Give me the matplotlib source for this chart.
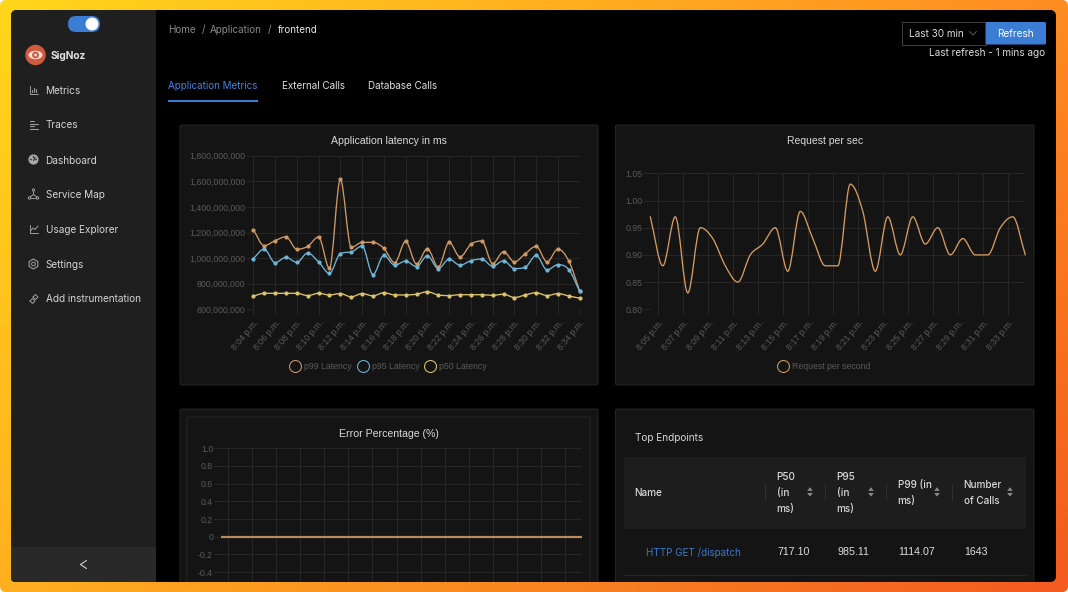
import numpy as np
import matplotlib
matplotlib.use("Agg")
import matplotlib.pyplot as plt
from matplotlib.patches import FancyBboxPatch, Rectangle, Circle, Ellipse, Polygon, PathPatch
from matplotlib.path import Path
from matplotlib.lines import Line2D

# ---------- data ----------
latency_ticks = ["8:04 p.m.", "8:06 p.m.", "8:08 p.m.", "8:10 p.m.", "8:12 p.m.", "8:14 p.m.", "8:16 p.m.", "8:18 p.m.",
                 "8:20 p.m.", "8:22 p.m.", "8:24 p.m.", "8:26 p.m.", "8:28 p.m.", "8:30 p.m.", "8:32 p.m.", "8:34 p.m."]
p99 = [1222, 1097, 1136, 1167, 1069, 1092, 1165, 920, 1615, 1084, 1123, 1123, 1076, 964, 1131, 954,
       1074, 930, 1123, 1009, 1108, 1134, 957, 1050, 970, 1035, 1092, 970, 1071, 977, 743]
p95 = [996, 1071, 964, 1006, 967, 1040, 970, 881, 1035, 1048, 1095, 871, 1022, 944, 977, 933,
       1019, 918, 992, 944, 980, 993, 936, 980, 918, 929, 1022, 907, 949, 910, 740]
p50 = [703, 725, 725, 725, 725, 707, 725, 712, 723, 697, 723, 705, 730, 712, 712, 718,
       737, 712, 707, 714, 714, 714, 709, 718, 692, 712, 730, 707, 723, 704, 687]
latency_yticks = [600, 800, 1000, 1200, 1400, 1600, 1800]

rps_ticks = ["8:05 p.m.", "8:07 p.m.", "8:09 p.m.", "8:11 p.m.", "8:13 p.m.", "8:15 p.m.", "8:17 p.m.", "8:19 p.m.",
             "8:21 p.m.", "8:23 p.m.", "8:25 p.m.", "8:27 p.m.", "8:29 p.m.", "8:31 p.m.", "8:33 p.m."]
rps = [0.97, 0.88, 0.97, 0.83, 0.95, 0.93, 0.88, 0.85, 0.90, 0.92, 0.95, 0.87, 0.98, 0.93, 0.88, 0.88,
       1.03, 0.98, 0.87, 0.97, 0.90, 0.97, 0.92, 0.95, 0.90, 0.93, 0.90, 0.90, 0.95, 0.97, 0.90]
rps_yticks = [0.80, 0.85, 0.90, 0.95, 1.00, 1.05]

errors = [0] * 31
error_yticks = [-0.4, -0.2, 0, 0.2, 0.4, 0.6, 0.8, 1.0]
error_ylabels = ["-0.4", "-0.2", "0", "0.2", "0.4", "0.6", "0.8", "1.0"]

menu_items = ["Metrics", "Traces", "Dashboard", "Service Map", "Usage Explorer", "Settings", "Add instrumentation"]
table_row = ["717.10", "985.11", "1114.07", "1643"]

# ---------- setup ----------
W, H = 1068, 592
plt.rcParams["font.family"] = ["Inter", "DejaVu Sans"]
CHART_FONT = "Liberation Sans"
fig = plt.figure(figsize=(W / 100, H / 100), dpi=100, facecolor="white")

bg = fig.add_axes([0, 0, 1, 1], zorder=0)
bg.set_xlim(0, W); bg.set_ylim(H, 0); bg.axis("off")

def axes_px(l, t, r, b):
    ax = fig.add_axes([l / W, 1 - b / H, (r - l) / W, (b - t) / H], zorder=2)
    ax.patch.set_visible(False)
    return ax

def rrect(x0, y0, x1, y1, r, fc, ec="none", lw=0, z=1):
    p = FancyBboxPatch((x0 + r, y0 + r), x1 - x0 - 2 * r, y1 - y0 - 2 * r,
                       boxstyle=f"round,pad={r},rounding_size={r}", fc=fc, ec=ec, lw=lw, zorder=z)
    bg.add_patch(p)
    return p

def txt(x, y, s, size=7.1, color="#d6d6d6", ha="left", va="center", **kw):
    bg.text(x, y + 0.7, s, fontsize=size, color=color, ha=ha, va=va, zorder=5, **kw)

def seg(xs, ys, color="#9a9a9a", lw=0.7, z=4):
    bg.plot(xs, ys, color=color, lw=lw, zorder=z, solid_capstyle="round", solid_joinstyle="round")

# gradient frame
c_tl, c_tr = np.array([255, 214, 27]) / 255, np.array([255, 140, 34]) / 255
c_bl, c_br = np.array([255, 176, 32]) / 255, np.array([243, 90, 32]) / 255
u = np.linspace(0, 1, 128)[None, :, None]
v = np.linspace(0, 1, 72)[:, None, None]
grad = (1 - v) * ((1 - u) * c_tl + u * c_tr) + v * ((1 - u) * c_bl + u * c_br)
im = bg.imshow(grad, extent=(0, W, H, 0), aspect="auto", zorder=0, interpolation="bilinear")
bg.set_xlim(0, W); bg.set_ylim(H, 0)
clip = FancyBboxPatch((6, 6), W - 12, H - 12, boxstyle="round,pad=6,rounding_size=6",
                      transform=bg.transData, fc="none", ec="none")
bg.add_patch(clip)
im.set_clip_path(clip)

# window + sidebar
rrect(11, 10, 1056, 582, 6, "#000000")
rrect(11, 10, 160, 582, 6, "#1f1f1f")
bg.add_patch(Rectangle((156, 10), 6, 572, fc="#000000", ec="none", zorder=1.1))
rrect(11, 547, 156, 582, 4, "#292929", z=1.2)
bg.add_patch(Rectangle((11, 547), 145, 8, fc="#292929", ec="none", zorder=1.2))
bg.add_patch(Rectangle((150, 547), 6, 35, fc="#292929", ec="none", zorder=1.2))
seg([86.5, 80.5, 86.5], [560.5, 564.5, 568.5], color="#cfcfcf", lw=0.8)

# toggle
rrect(68, 16, 100, 32, 8, "#3b7cd4", z=3)
bg.add_patch(Circle((92, 24), 6.5, fc="#ffffff", ec="none", zorder=4))

# logo
bg.add_patch(Circle((35.5, 55), 10.2, fc="#cf5a3f", ec="none", zorder=3))
bg.add_patch(Ellipse((35.5, 55), 14, 8.5, fc="#f4dcd4", ec="none", zorder=4))
bg.add_patch(Circle((35.5, 55), 3.4, fc="#cf5a3f", ec="none", zorder=4.5))
bg.add_patch(Circle((35.5, 55), 1.4, fc="#f4dcd4", ec="none", zorder=4.6))
txt(51, 55, "SigNoz", size=7.3, color="#e4e4e4", fontweight="bold")

# sidebar menu
menu_y = [90, 125, 160, 194.5, 229.5, 264, 299]
for s, y in zip(menu_items, menu_y):
    txt(45.5, y - 0.2, s, size=7.2, color="#d4d4d4")
ic = "#9d9d9d"
# metrics
seg([29.5, 29.5, 38], [85.5, 93.5, 93.5], ic)
for x, y0 in [(32, 90), (34, 87.5), (36, 89)]:
    seg([x, x], [y0, 92], ic, lw=0.8)
# traces
for y, x1 in [(120.5, 34), (123.5, 37.5), (126, 34), (129, 38)]:
    seg([29.5, x1], [y, y], ic, lw=0.8)
# dashboard
bg.add_patch(Circle((33.5, 159.5), 5.1, fc="#a8a8a8", ec="none", zorder=4))
for dx, dy in [(-2.6, 0), (0, -2.6), (2.6, 0)]:
    bg.add_patch(Circle((33.5 + dx, 159.5 + dy), 0.8, fc="#1f1f1f", ec="none", zorder=4.5))
seg([33.5, 35], [160.5, 157.5], "#1f1f1f", lw=0.8, z=4.5)
# service map
seg([33.5, 33.5, 29.5], [190.5, 194.5, 197.5], ic)
seg([33.5, 37.5], [194.5, 197.5], ic)
seg([29.5, 37.5], [198, 198], ic)
for x, y in [(33.5, 190), (29.5, 198), (37.5, 198)]:
    bg.add_patch(Circle((x, y), 1.2, fc="#1f1f1f", ec=ic, lw=0.7, zorder=5))
# usage
seg([29.5, 29.5, 38], [225, 233, 233], ic)
seg([30.5, 33, 35, 38], [231, 228, 229.5, 226], ic)
# settings
th = np.radians(np.arange(30, 390, 60))
bg.add_patch(Polygon(np.c_[33.5 + 5 * np.cos(th), 264 + 5 * np.sin(th)], closed=True, fc="none", ec=ic, lw=0.8, zorder=4))
bg.add_patch(Circle((33.5, 264), 1.9, fc="none", ec=ic, lw=0.7, zorder=4))
# add instrumentation
seg([30, 32.5, 35, 32.5, 30], [301, 298.5, 301, 303.5, 301], ic)
seg([33, 35.5, 38, 35.5, 33], [297, 294.5, 297, 299.5, 297], ic)

# header
crumb = "#8a8a8a"
txt(168, 29.5, "Home", color=crumb)
txt(201.5, 29.5, "/", color=crumb)
txt(210, 29.5, "Application", color=crumb)
txt(267.5, 29.5, "/", color=crumb)
txt(278, 29.5, "frontend", color="#e8e8e8")
txt(168, 85, "Application Metrics", color="#3f86e0")
txt(282, 85, "External Calls", color="#e0e0e0")
txt(368, 85, "Database Calls", color="#e0e0e0")
bg.add_patch(Rectangle((168, 100.7), 877, 0.8, fc="#232323", ec="none", zorder=2))
bg.add_patch(Rectangle((168, 100), 90, 1.6, fc="#3b7cd4", ec="none", zorder=3))

# controls
bg.add_patch(Rectangle((901.5, 22), 84, 22.5, fc="#000000", ec="#424242", lw=0.7, zorder=2))
txt(909, 33, "Last 30 min", color="#dddddd", size=7.2)
seg([969.5, 973, 976.5], [31.5, 35, 31.5], "#6a6a6a", lw=0.6)
rrect(985.5, 22, 1046, 44.5, 1.5, "#3b7cd4", z=3)
txt(1015.5, 33, "Refresh", color="#ffffff", ha="center", size=7.2)
txt(1045.5, 52.5, "Last refresh - 1 mins ago", color="#dddddd", ha="right", size=7.2)

# cards (the lower ones run past the bottom of the window and are cut there)
card, edge = "#141414", "#2a2a2a"
cut = Rectangle((0, 0), W, 582, transform=bg.transData)
card_boxes = [(180, 125, 598, 385), (615.5, 125, 1034, 385), (180, 409, 598, 600), (615.5, 409, 1034, 600), (187, 417, 590, 600)]
for i, (x0, y0, x1, y1) in enumerate(card_boxes):
    p = FancyBboxPatch((x0 + 1, y0 + 1), x1 - x0 - 2, y1 - y0 - 2, boxstyle="round,pad=1,rounding_size=1.5",
                       fc=card, ec=edge, lw=0.6, zorder=1.5 + i * 0.01)
    bg.add_patch(p)
    p.set_clip_path(cut)

GRID, TICK = "#262626", "#5a5a5a"

def style(ax, xt, xl, yt, yl):
    ax.set_xticks(xt)
    ax.set_xticklabels(xl, rotation=50, ha="right", rotation_mode="anchor", fontsize=6.3,
                       color=TICK, family=CHART_FONT)
    ax.set_yticks(yt)
    ax.set_yticklabels(yl, fontsize=6.3, color=TICK, family=CHART_FONT)
    ax.grid(True, color=GRID, lw=0.75)
    ax.set_axisbelow(True)
    ax.tick_params(axis="x", color=GRID, length=4.3, width=0.75, pad=2.5)
    ax.tick_params(axis="y", color=GRID, length=4.7, width=0.75, pad=1.0)
    for s in ax.spines.values():
        s.set_visible(False)

def monotone_path(ax, x, y, color, lw):
    """Monotone cubic through the data values (the chart's own line style)."""
    x, y = np.asarray(x, float), np.asarray(y, float)
    dx = np.diff(x); d = np.diff(y) / dx
    m = np.zeros_like(y)
    m[0], m[-1] = d[0], d[-1]
    for i in range(1, len(y) - 1):
        m[i] = 0 if d[i - 1] * d[i] <= 0 else (d[i - 1] + d[i]) / 2
    for i in range(len(d)):
        if d[i] == 0:
            m[i] = m[i + 1] = 0
        else:
            a, b = m[i] / d[i], m[i + 1] / d[i]
            s = a * a + b * b
            if s > 9:
                t = 3 / np.sqrt(s)
                m[i], m[i + 1] = t * a * d[i], t * b * d[i]
    verts = [(x[0], y[0])]
    codes = [Path.MOVETO]
    for i in range(len(d)):
        h = dx[i] / 3
        verts += [(x[i] + h, y[i] + m[i] * h), (x[i + 1] - h, y[i + 1] - m[i + 1] * h), (x[i + 1], y[i + 1])]
        codes += [Path.CURVE4] * 3
    patch = PathPatch(Path(verts, codes), fc="none", ec=color, lw=lw, zorder=3, clip_on=False, capstyle="round")
    ax.add_patch(patch)

def legend(ax, names, colors, cx, cy):
    handles = [Line2D([], [], ls="none", marker="o", ms=8.6, mfc="none", mec=c, mew=0.75) for c in colors]
    ax.legend(handles, names, loc="center", bbox_to_anchor=(cx / W, 1 - cy / H), bbox_transform=fig.transFigure,
              ncol=len(names), frameon=False, handlelength=1.0, handletextpad=0.52, columnspacing=0.75,
              borderpad=0, labelcolor=TICK, prop={"family": CHART_FONT, "size": 6.3})

# ---------- chart 1 ----------
C99, C95, C50 = "#cf9a66", "#6fb6d9", "#dcc46c"
ax1 = axes_px(253.3, 155.7, 579.7, 309.3)
k = np.arange(len(p99))
ax1.set_xlim(0, 30); ax1.set_ylim(600, 1800)
for ser, c in [(p99, C99), (p95, C95), (p50, C50)]:
    monotone_path(ax1, k, ser, c, 0.95)
    ax1.plot(k, ser, ls="none", marker="o", ms=2.0, color=c, clip_on=False, zorder=3.5)
style(ax1, k[::2], latency_ticks, latency_yticks, [f"{v * 1000000:,}" for v in latency_yticks])
legend(ax1, ["p99 Latency", "p95 Latency", "p50 Latency"], [C99, C95, C50], 389, 366.3)
bg.text(389, 141, "Application latency in ms", fontsize=7.6, color="#dadada", ha="center", va="center", zorder=5, family=CHART_FONT)

# ---------- chart 2 ----------
ax2 = axes_px(650.3, 173.3, 1025.3, 309.3)
m2 = 4.36 + np.arange(len(rps))
ax2.set_xlim(m2[0], m2[-1]); ax2.set_ylim(0.80, 1.05)
monotone_path(ax2, m2, rps, "#d59a5e", 0.95)
style(ax2, np.arange(5, 35, 2), rps_ticks, rps_yticks, [f"{v:.2f}" for v in rps_yticks])
legend(ax2, ["Request per second"], ["#d59a5e"], 824.3, 366.3)
bg.text(825, 141, "Request per sec", fontsize=7.5, color="#dadada", ha="center", va="center", zorder=5, family=CHART_FONT)

# ---------- chart 3 ----------
ax3 = axes_px(221, 448.3, 581.7, 582)
m3 = 4.4 + np.arange(len(errors))
ax3.set_xlim(m3[0], m3[-1]); ax3.set_ylim(-0.512, 1.0)
ax3.plot(m3, errors, color="#b98a5e", lw=1.6, zorder=3, solid_capstyle="butt")
style(ax3, np.arange(5, 35, 2), [""] * 15, error_yticks, error_ylabels)
ax3.tick_params(axis="x", length=0)
bg.text(388.5, 434, "Error Percentage (%)", fontsize=7.55, color="#dadada", ha="center", va="center", zorder=5, family=CHART_FONT)

# ---------- table ----------
txt(634.7, 437, "Top Endpoints", color="#d6d6d6", size=7.2)
bg.add_patch(Rectangle((623.5, 456.5), 402.5, 72.5, fc="#1d1d1d", ec="none", zorder=1.7))
hc = "#d8d8d8"
txt(634.7, 492, "Name", color=hc, size=7.2, fontweight="medium")
for x, lines in [(776.5, ["P50", "(in", "ms)"]), (836.5, ["P95", "(in", "ms)"])]:
    for y, s in zip([476, 492, 508], lines):
        txt(x, y, s, color=hc, size=7.2, fontweight="medium")
for x, lines in [(897.5, ["P99 (in", "ms)"]), (963.5, ["Number", "of Calls"])]:
    for y, s in zip([484, 500], lines):
        txt(x, y, s, color=hc, size=7.2, fontweight="medium")
for x in [765, 825, 886, 952]:
    seg([x, x], [484, 500], "#333333", lw=0.6)
for x in [810, 871, 937, 1010]:
    bg.add_patch(Polygon([(x - 2.8, 490.8), (x + 2.8, 490.8), (x, 487.2)], fc="#8c8c8c", ec="none", zorder=4))
    bg.add_patch(Polygon([(x - 2.8, 493), (x + 2.8, 493), (x, 496.6)], fc="#8c8c8c", ec="none", zorder=4))
txt(646.5, 552, "HTTP GET /dispatch", color="#3b78c8", size=7.15)
for x, s in zip([777, 837, 898.5, 964], table_row):
    txt(x, 551.6, s, color="#dcdcdc", size=7.7, family=CHART_FONT)
bg.add_patch(Rectangle((623.5, 574.7), 402.5, 0.8, fc="#272727", ec="none", zorder=1.7))

fig.savefig("out.png", dpi=100, facecolor="white")
